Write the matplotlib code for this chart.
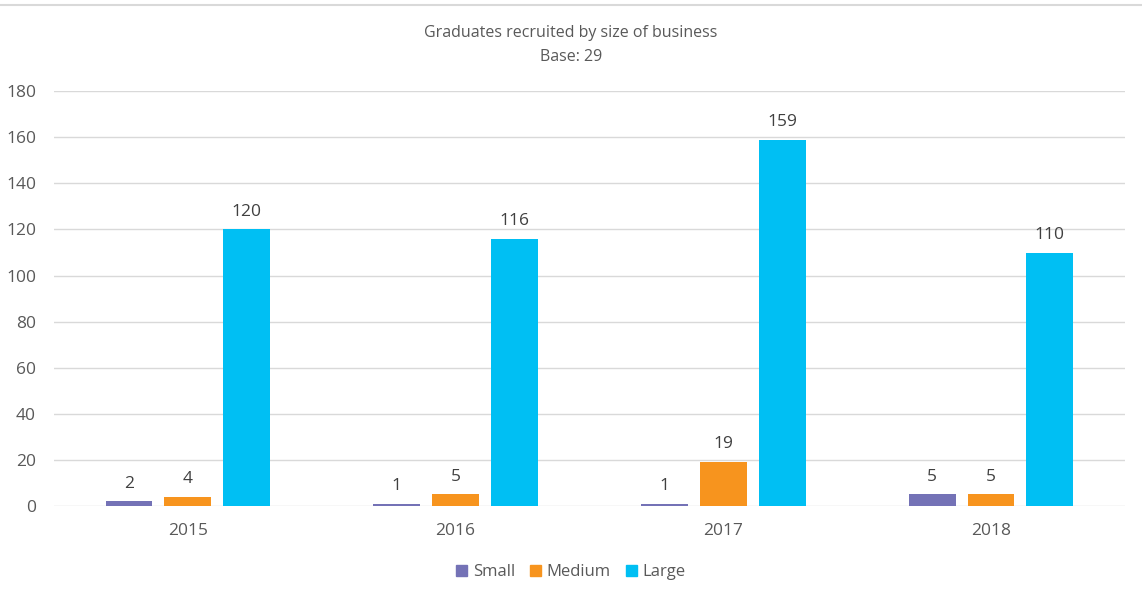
import numpy as np
import matplotlib.pyplot as plt
from matplotlib.lines import Line2D

years = ['2015', '2016', '2017', '2018']
series = ['Small', 'Medium', 'Large']
small = [2, 1, 1, 5]
medium = [4, 5, 19, 5]
large = [120, 116, 159, 110]
colors = ['#7472B6', '#F7941E', '#00BFF3']

plt.rcParams['font.family'] = ['Open Sans', 'DejaVu Sans']
text_col = '#595959'

fig = plt.figure(figsize=(11.42, 5.96), dpi=100)
ax = fig.add_axes([0.0473, 0.151, 0.9377, 0.696])

x = np.arange(len(years))
width = 0.175
offsets = [-0.22, 0.0, 0.22]

for vals, off, col, name in zip([small, medium, large], offsets, colors, series):
    bars = ax.bar(x + off, vals, width, color=col, label=name, zorder=3)
    for b, v in zip(bars, vals):
        ax.annotate(str(v), (b.get_x() + b.get_width() / 2, v),
                    xytext=(0, 7), textcoords='offset points',
                    ha='center', va='bottom', fontsize=12.5, color='#404040')

ax.set_xlim(-0.5, 3.5)
ax.set_ylim(0, 180)
ax.set_yticks(range(0, 181, 20))
ax.set_xticks(x)
ax.set_xticklabels(years)
ax.tick_params(axis='both', length=0, labelsize=12.5, colors=text_col)
ax.tick_params(axis='y', pad=13)
ax.tick_params(axis='x', pad=12)
ax.grid(True, axis='y', color='#D9D9D9', linewidth=1, zorder=0)
for s in ax.spines.values():
    s.set_visible(False)

fig.text(0.5, 0.944, 'Graduates recruited by size of business', ha='center',
         va='center', fontsize=11.5, color=text_col)
fig.text(0.5, 0.905, 'Base: 29', ha='center', va='center', fontsize=11.5,
         color=text_col)

# thin rule along the top edge
fig.add_artist(Line2D([0, 1], [0.991, 0.991], transform=fig.transFigure,
                      color='#D9D9D9', linewidth=1.5))

handles = [plt.Rectangle((0, 0), 1, 1, color=c) for c in colors]
fig.legend(handles, series, loc='center', bbox_to_anchor=(0.5, 0.04), ncol=3,
           frameon=False, fontsize=12, handlelength=0.65, handleheight=0.65,
           handletextpad=0.35, columnspacing=0.9, labelcolor=text_col)

fig.savefig('out.png', dpi=100)
